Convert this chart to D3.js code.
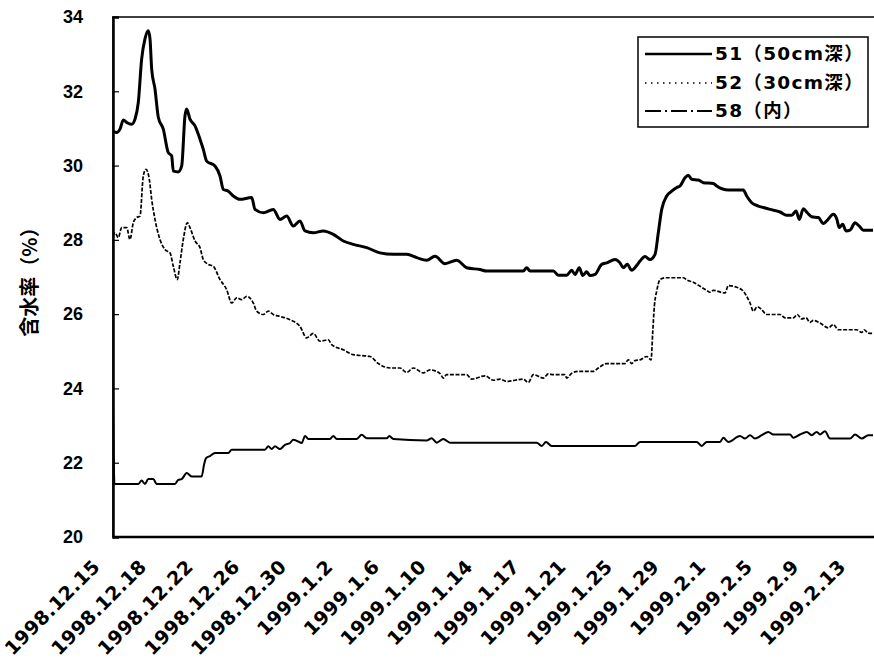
<!DOCTYPE html>
<html><head><meta charset="utf-8">
<script src="https://cdn.jsdelivr.net/npm/d3@7"></script>
<style>html,body{margin:0;padding:0;background:#fff;}svg{display:block;}</style>
</head><body>
<svg id="chart" width="874" height="659"></svg>
<script>
// ---- data (x in "sample" units; one x-label every 10 units) ----
const xLabels = ["1998.12.15","1998.12.18","1998.12.22","1998.12.26","1998.12.30","1999.1.2","1999.1.6","1999.1.10","1999.1.14","1999.1.17","1999.1.21","1999.1.25","1999.1.29","1999.2.1","1999.2.5","1999.2.9","1999.2.13"];
const yTicks = [20,22,24,26,28,30,32,34];
const seriesNames = ["51（50cm深）","52（30cm深）","58（内）"];

const t51 = [3.33,4.12,4.83,5.54,6.27,7.34,8.05,8.76,9.48,10.19,10.90,11.27,11.63,12.34,13.05,14.12,15.19,15.92,16.27,17.34,18.07,18.78,19.14,19.85,20.92,22.00,22.70,23.43,25.21,26.29,27.00,28.07,29.14,30.58,33.09,33.80,35.58,37.72,39.16,40.60,42.02,43.45,44.53,46.31,48.45,50.60,52.75,54.89,57.77,60.62,63.48,66.35,68.50,70.64,72.42,74.57,77.08,79.23,82.08,83.52,91.37,92.10,92.81,97.81,98.88,100.69,101.76,102.47,103.39,104.12,104.98,105.68,106.76,108.20,109.27,111.05,112.12,112.83,113.69,114.63,115.71,116.42,117.49,118.56,119.64,120.34,121.07,122.15,123.22,124.29,125.00,126.07,126.78,127.51,128.93,130.00,132.14,132.87,135.36,138.58,139.31,140.38,141.80,142.87,144.31,146.46,147.89,148.97,149.89,150.60,151.46,152.32,153.26,154.68,155.75,156.48,157.90,158.62,159.18,159.91,160.62,161.48,162.55,163.47,164.33,166.41];
const v51 = [30.93,30.89,30.98,31.23,31.16,31.11,31.25,31.70,32.87,33.41,33.63,33.41,32.60,32.06,31.30,30.98,30.35,30.26,29.85,29.83,29.99,31.34,31.52,31.25,31.07,30.71,30.44,30.12,29.99,29.72,29.36,29.31,29.18,29.09,29.14,28.82,28.73,28.82,28.55,28.64,28.37,28.51,28.24,28.19,28.24,28.15,27.97,27.88,27.79,27.65,27.61,27.61,27.52,27.45,27.56,27.36,27.45,27.25,27.20,27.16,27.16,27.25,27.16,27.16,27.05,27.05,27.18,27.07,27.25,27.04,27.14,27.04,27.07,27.34,27.38,27.47,27.38,27.25,27.34,27.18,27.31,27.43,27.55,27.47,27.61,28.19,28.82,29.18,29.31,29.41,29.45,29.67,29.74,29.63,29.61,29.54,29.52,29.45,29.34,29.34,29.18,29.00,28.91,28.87,28.82,28.75,28.66,28.66,28.78,28.55,28.84,28.73,28.62,28.60,28.44,28.51,28.69,28.57,28.33,28.42,28.24,28.26,28.46,28.37,28.26,28.26];

const t52 = [3.33,3.76,4.46,5.19,6.27,6.97,7.68,8.41,9.12,9.83,10.41,11.12,11.63,12.34,13.41,14.48,15.56,16.27,17.12,17.70,18.41,19.27,20.00,20.92,22.00,22.70,23.78,24.85,26.29,27.72,28.80,29.87,30.94,32.02,33.43,34.16,35.58,36.65,37.72,39.16,41.31,43.45,44.89,46.31,47.75,49.53,50.26,52.75,54.89,58.48,60.26,62.77,64.91,66.35,67.77,69.91,71.35,73.50,74.20,74.93,79.23,80.30,83.15,84.94,86.37,87.81,91.37,92.45,93.52,95.67,96.74,97.81,100.31,100.69,101.76,103.18,106.40,107.47,109.27,113.19,113.90,114.63,115.34,116.42,117.85,118.78,119.14,119.49,120.00,120.71,121.78,125.71,126.44,127.85,129.29,130.72,131.43,132.14,134.65,135.36,136.80,138.58,139.31,140.02,140.73,141.59,142.53,143.60,146.46,147.53,149.31,150.17,151.11,152.03,152.89,153.60,155.04,156.82,157.90,158.97,162.92,163.99,164.48,165.40,166.41];
const v52 = [28.10,28.19,28.06,28.33,28.33,28.01,28.46,28.60,28.64,29.72,29.90,29.63,29.09,28.55,28.01,27.74,27.65,27.29,26.93,27.38,28.01,28.46,28.28,27.97,27.79,27.47,27.34,27.29,26.93,26.66,26.30,26.44,26.39,26.48,26.30,26.08,25.99,26.08,25.99,25.94,25.85,25.67,25.36,25.48,25.27,25.31,25.18,25.04,24.91,24.86,24.67,24.55,24.55,24.43,24.55,24.42,24.50,24.40,24.28,24.37,24.37,24.25,24.34,24.22,24.25,24.19,24.25,24.16,24.37,24.28,24.39,24.37,24.37,24.28,24.41,24.46,24.46,24.55,24.67,24.67,24.77,24.67,24.75,24.77,24.86,24.77,25.50,26.21,26.62,26.93,26.98,26.98,26.92,26.86,26.75,26.64,26.59,26.64,26.57,26.77,26.74,26.62,26.48,26.30,26.08,26.20,26.12,25.99,25.99,25.90,25.90,25.99,25.87,25.90,25.78,25.83,25.76,25.63,25.72,25.58,25.58,25.51,25.58,25.49,25.48];

const t58 = [3.33,3.65,8.76,9.48,10.19,10.90,11.97,12.70,16.63,17.34,18.07,19.14,20.21,22.36,22.85,23.28,24.14,25.21,28.07,28.80,35.94,36.65,37.38,38.09,39.16,40.24,41.31,42.02,43.09,43.82,44.53,45.24,49.89,50.60,51.33,55.62,56.69,57.77,62.06,62.62,63.48,70.64,71.71,72.79,74.20,75.64,94.24,95.31,96.24,97.46,115.34,116.42,128.58,129.65,130.72,133.58,134.29,135.36,137.87,138.94,140.02,141.09,142.53,143.95,145.02,148.61,149.31,150.75,152.19,153.26,154.33,155.04,156.11,157.19,161.48,162.55,163.99,165.40,166.41];
const v58 = [23.60,21.43,21.43,21.52,21.43,21.56,21.56,21.43,21.43,21.54,21.56,21.72,21.63,21.63,21.94,22.12,22.18,22.26,22.26,22.35,22.35,22.44,22.37,22.44,22.37,22.48,22.53,22.62,22.57,22.53,22.72,22.64,22.64,22.72,22.64,22.64,22.75,22.66,22.66,22.72,22.64,22.60,22.66,22.54,22.64,22.54,22.54,22.45,22.56,22.45,22.45,22.56,22.56,22.45,22.56,22.56,22.67,22.56,22.72,22.65,22.74,22.65,22.74,22.83,22.76,22.76,22.67,22.76,22.83,22.74,22.83,22.76,22.85,22.65,22.65,22.76,22.65,22.74,22.74];

// ---- layout ----
const svg = d3.select("#chart");
const L = 113, R = 873, T = 17, B = 537;
const x = d3.scaleLinear().domain([3.33, 166.41]).range([L, R]);
const y = d3.scaleLinear().domain([20, 34]).range([B, T]);

// frame (right side falls just outside the picture)
svg.append("rect").attr("x", L).attr("y", T).attr("width", R - L + 3).attr("height", B - T)
  .attr("fill", "none").attr("stroke", "#000").attr("stroke-width", 1.5);

// y axis
const yAxis = d3.axisLeft(y).tickValues(yTicks).tickSize(-6).tickPadding(30).tickFormat(d3.format("d"));
const gy = svg.append("g").attr("transform", `translate(${L},0)`).call(yAxis);
gy.select(".domain").attr("stroke", "#000").attr("stroke-width", 2.5);
gy.selectAll(".tick line").attr("stroke", "#000").attr("stroke-width", 1.2);
gy.selectAll(".tick text").attr("font-family", "'Liberation Sans', Arial, sans-serif")
  .attr("font-weight", "bold").attr("font-size", 18).attr("fill", "#000");

// x axis (labels only)
svg.append("line").attr("x1", L).attr("x2", R + 2).attr("y1", B).attr("y2", B)
  .attr("stroke", "#000").attr("stroke-width", 2.5);
svg.append("g").selectAll("text").data(xLabels).join("text")
  .attr("transform", (d, i) => `translate(${x(i * 10) - 1},${B + 26}) rotate(-45)`)
  .attr("text-anchor", "end").attr("dy", "0.35em")
  .attr("font-family", "'DejaVu Sans', sans-serif").attr("font-weight", "bold")
  .attr("letter-spacing", 0.5)
  .attr("font-size", 19).attr("fill", "#000").text(d => d);

// y axis title
svg.append("text").attr("transform", `translate(30,${(T + B) / 2}) rotate(-90)`)
  .attr("text-anchor", "middle").attr("dy", "0.35em")
  .attr("font-family", "'Noto Sans CJK JP', sans-serif").attr("font-weight", "bold")
  .attr("font-size", 20).attr("fill", "#000").text("含水率（%）");

// lines
const line = d3.line().x(d => x(d[0])).y(d => y(d[1])).curve(d3.curveMonotoneX);
const styles = [
  {t: t51, v: v51, w: 3, dash: null, legendDash: null},
  {t: t52, v: v52, w: 1.7, dash: "4,1.6", legendDash: "1.5,4.5"},
  {t: t58, v: v58, w: 2, dash: null, legendDash: "16,4,2,4"}
];
svg.append("clipPath").attr("id", "clip").append("rect")
  .attr("x", L).attr("y", T).attr("width", R - L + 2).attr("height", B - T);
styles.forEach(s => {
  svg.append("path").datum(d3.zip(s.t, s.v)).attr("d", line)
    .attr("fill", "none").attr("stroke", "#000").attr("stroke-width", s.w)
    .attr("stroke-dasharray", s.dash).attr("stroke-linejoin", "round")
    .attr("clip-path", "url(#clip)");
});

// legend
const lg = svg.append("g");
lg.append("rect").attr("x", 638).attr("y", 37).attr("width", 230).attr("height", 90)
  .attr("fill", "#fff").attr("stroke", "#000").attr("stroke-width", 1.5);
const rowY = [54, 83, 111];
seriesNames.forEach((n, i) => {
  lg.append("line").attr("x1", 645).attr("x2", 712).attr("y1", rowY[i]).attr("y2", rowY[i])
    .attr("stroke", "#000").attr("stroke-width", i === 0 ? 2.5 : (i === 1 ? 1.5 : 2))
    .attr("stroke-dasharray", styles[i].legendDash);
  lg.append("text").attr("x", 715).attr("y", rowY[i]).attr("dy", "0.35em")
    .attr("font-family", "'DejaVu Sans', 'Noto Sans CJK JP', sans-serif").attr("font-weight", "bold")
    .attr("letter-spacing", 1.3)
    .attr("font-size", 18.5).attr("fill", "#000").text(n);
});
</script>
</body></html>
